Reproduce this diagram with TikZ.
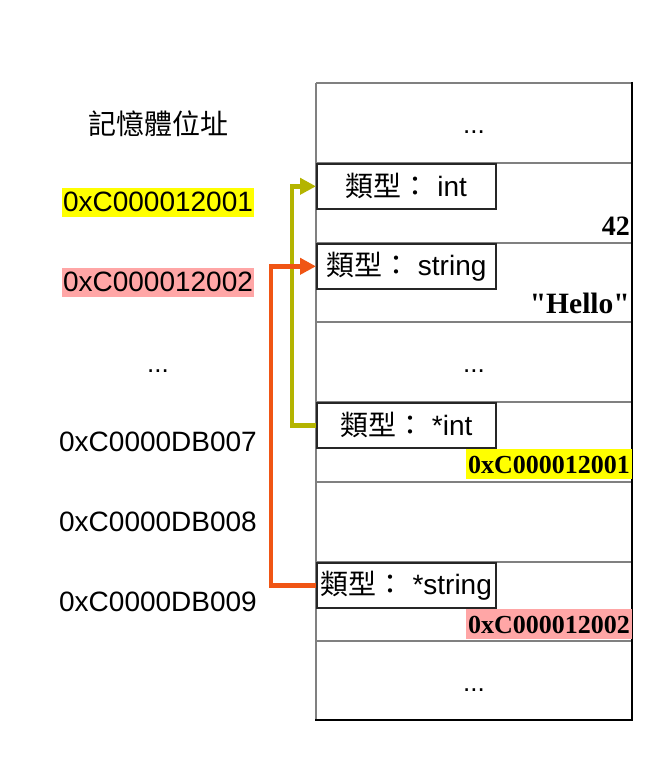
\documentclass[tikz,border=0pt]{standalone}
\usepackage{fontspec}
\setmainfont{Liberation Sans}
\newfontfamily\cjk{Noto Sans CJK TC}
\newfontfamily\valfont{Liberation Serif}
\usetikzlibrary{arrows.meta}
\definecolor{hlyellow}{RGB}{255,255,0}
\definecolor{hlpink}{RGB}{255,166,166}
\definecolor{oliveln}{RGB}{180,180,0}
\definecolor{orangeln}{RGB}{240,85,20}
\definecolor{rowgray}{RGB}{128,128,128}
\begin{document}
\begin{tikzpicture}[x=1pt,y=-1pt,
  addr/.style={font=\fontsize{28}{32}\selectfont, inner xsep=1pt, inner ysep=3pt, text height=20pt, text depth=3pt, anchor=base},
  dots/.style={font=\fontsize{26}{30}\selectfont, inner sep=0pt, anchor=base},
  typebox/.style={draw=black!85, line width=1.6pt, minimum width=179pt, minimum height=45pt, inner sep=0pt, anchor=north west, font=\fontsize{28}{32}\selectfont},
  valtext/.style={font=\valfont\bfseries\fontsize{26}{30}\selectfont, anchor=base east, inner xsep=2pt, inner ysep=6pt, text height=18pt, text depth=0pt},
  sepline/.style={draw=rowgray, line width=1.6pt},
  edgeline/.style={draw=black, line width=1.6pt},
  ptrarrow/.style={line width=4.5pt, -{Triangle[length=16pt 0 0,width=16pt 0 0]}}
]
\useasboundingbox (0,0) rectangle (653,765);

% memory column
\foreach \yy in {83,163,243,322,402,482,562,641}
  \draw[sepline] (316,\yy) -- (632,\yy);
\draw[sepline] (316,83) -- (316,720);
\draw[edgeline] (632,82) -- (632,720.8);
\draw[edgeline] (315.2,720) -- (632,720);

% left address labels
\node[font=\cjk\fontsize{28}{32}\selectfont] (title) at (158,124) {記憶體位址};
\node[addr, fill=hlyellow] (a1) at (158,211) {0xC000012001};
\node[addr, fill=hlpink] (a2) at (158,291) {0xC000012002};
\node[dots] (ldots) at (158,372) {...};
\node[addr] (a3) at (158,451) {0xC0000DB007};
\node[addr] (a4) at (158,531) {0xC0000DB008};
\node[addr] (a5) at (158,611) {0xC0000DB009};

% cell contents
\node[dots] (d1) at (474,133) {...};
\node[dots] (d2) at (474,372) {...};
\node[dots] (d3) at (474,691) {...};

\node[typebox] (tint) at (316,163) {{\cjk 類型：} int};
\node[typebox] (tstr) at (316,243) {{\cjk 類型：} string};
\node[typebox] (pint) at (316,402) {{\cjk 類型：} *int};
\node[typebox] (pstr) at (316,562) {{\cjk 類型：} *string};

\node[valtext, font=\valfont\bfseries\fontsize{28}{32}\selectfont] (v42) at (632,235) {42};
\node[valtext, font=\valfont\bfseries\fontsize{29.5}{34}\selectfont] (vhello) at (632,313) {"Hello"};
\node[valtext, fill=hlyellow] (vp1) at (632,473) {0xC000012001};
\node[valtext, fill=hlpink] (vp2) at (632,633) {0xC000012002};

% pointer arrows
\coordinate (oc) at (292,424);
\coordinate (rc) at (271,584.5);
\draw[ptrarrow, oliveln] (pint.west) -- (pint.west -| oc) |- (tint.west);
\draw[ptrarrow, orangeln] (pstr.west) -- (pstr.west -| rc) |- (tstr.west);
\end{tikzpicture}
\end{document}
